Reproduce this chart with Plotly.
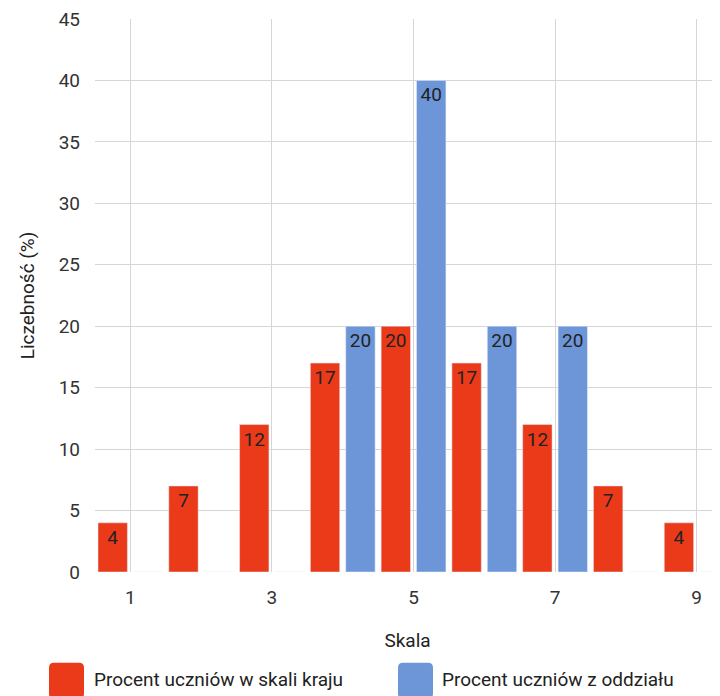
import plotly.graph_objects as go

skala = [1, 2, 3, 4, 5, 6, 7, 8, 9]
kraj = [4, 7, 12, 17, 20, 17, 12, 7, 4]
oddzial = [0, 0, 0, 20, 40, 20, 20, 0, 0]
name_kraj = "Procent uczniów w skali kraju"
name_oddzial = "Procent uczniów z oddziału"
x_ticks = [1, 3, 5, 7, 9]
y_ticks = [0, 5, 10, 15, 20, 25, 30, 35, 40, 45]

RED = "#EA3A1A"
BLUE = "#6D96D9"
FONT = "Roboto"
FS = 19

OFF = 8  # page body margin
W, H = 712, 688
ML, MR, MT, MB = 87, 0, 9, 124
PW, PH = W - ML - MR, H - MT - MB


def lbl(vals):
    return [str(v) if v > 0 else "" for v in vals]


fig = go.Figure()
for name, vals, col in [(name_kraj, kraj, RED), (name_oddzial, oddzial, BLUE)]:
    fig.add_trace(go.Bar(
        x=skala, y=vals, name=name, marker_color=col,
        text=lbl(vals), textposition="inside", insidetextanchor="end",
        textangle=0, constraintext="none",
        textfont=dict(family=FONT, size=FS, color="#222222"),
        showlegend=False, hoverinfo="x+y",
    ))


def px(x):
    return (x - OFF - ML) / PW


def py(y):
    return (H - MB - (y - OFF)) / PH


def rrect(x0, y0, x1, y1, r):
    return ("M {a},{b} L {c},{b} Q {d},{b} {d},{e} L {d},{f} Q {d},{g} {c},{g} "
            "L {a},{g} Q {h},{g} {h},{f} L {h},{e} Q {h},{b} {a},{b} Z").format(
        a=px(x0 + r), b=py(y0), c=px(x1 - r), d=px(x1), e=py(y0 + r),
        f=py(y1 - r), g=py(y1), h=px(x0))


legend_items = [(name_kraj, RED, 49, 92), (name_oddzial, BLUE, 398, 440)]
for name, col, sx, tx in legend_items:
    fig.add_shape(type="path", path=rrect(sx, 663, sx + 35, 699, 5),
                  xref="paper", yref="paper", fillcolor=col, line_width=0)
    fig.add_annotation(text=name, xref="paper", yref="paper", x=px(tx), y=py(680),
                       xanchor="left", yanchor="middle", showarrow=False,
                       font=dict(family=FONT, size=FS, color="#222222"))

fig.update_layout(
    width=W, height=H,
    margin=dict(l=ML, r=MR, t=MT, b=MB, pad=0),
    paper_bgcolor="white", plot_bgcolor="white",
    barmode="group", bargap=0.0, bargroupgap=0.17,
    font=dict(family=FONT, size=FS, color="#333333"),
    showlegend=False,
    xaxis=dict(range=[0.5, 9.33], tickvals=x_ticks, showgrid=True,
               gridcolor="#d6d6d6", gridwidth=1, zeroline=False, showline=False,
               ticks="", ticklabelstandoff=12, ticklabeloverflow="allow",
               title=dict(text="Skala", standoff=25,
                          font=dict(family=FONT, size=FS, color="#222222"))),
    yaxis=dict(range=[0, 45], tickvals=y_ticks, showgrid=True,
               gridcolor="#d6d6d6", gridwidth=1, zeroline=False, showline=False,
               ticks="", ticklabelstandoff=14, ticklabeloverflow="allow",
               title=dict(text="Liczebność (%)", standoff=18,
                          font=dict(family=FONT, size=FS, color="#222222"))),
)

fig.write_html("out.html")
